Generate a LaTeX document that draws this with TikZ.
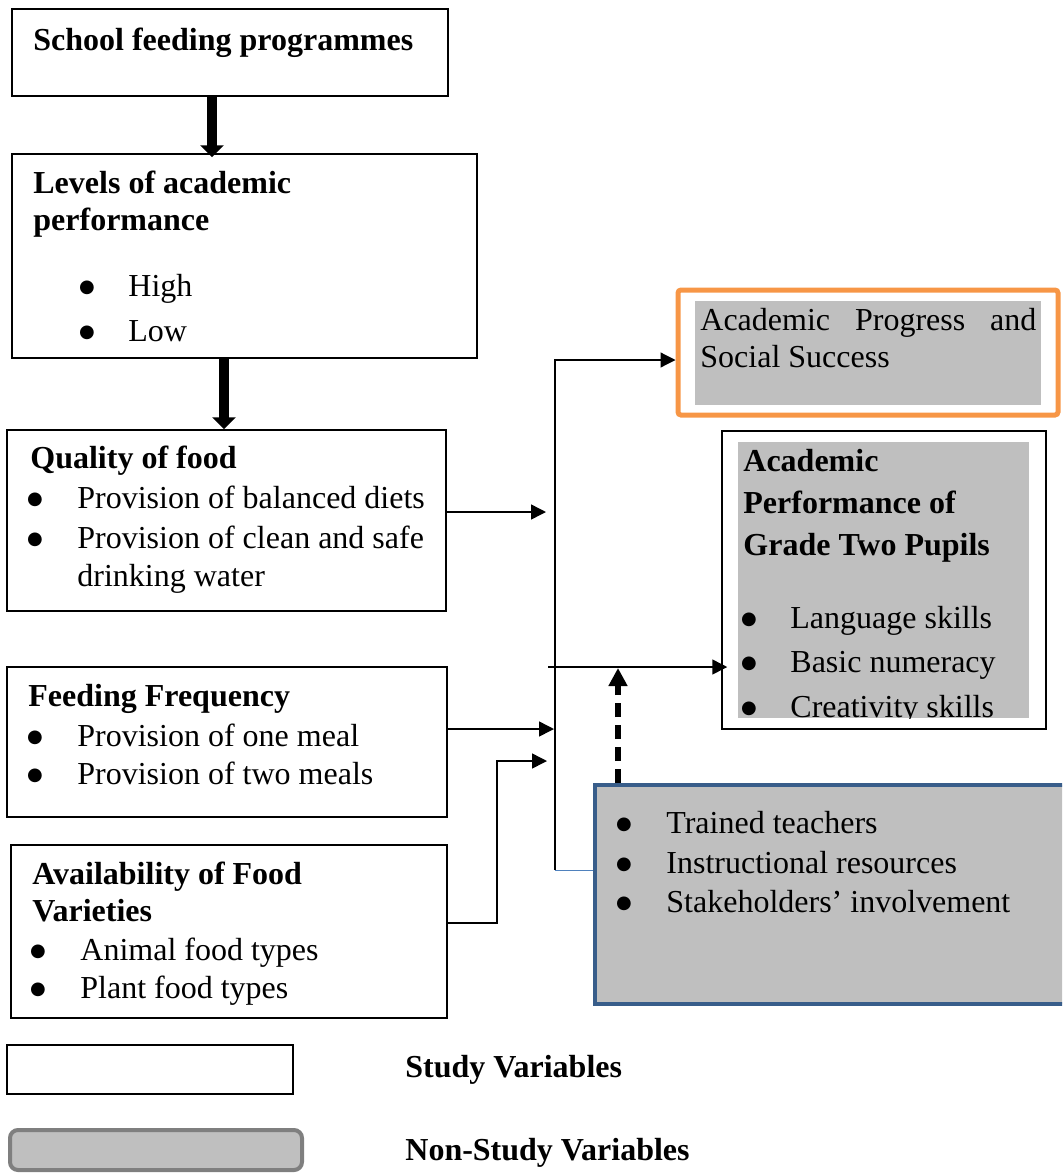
\documentclass[tikz,border=0pt]{standalone}
\usepackage{fontspec}
\setmainfont{Liberation Serif}
\newfontfamily\dejavu{DejaVu Sans}
\usetikzlibrary{arrows.meta,fit}
\definecolor{orangeB}{HTML}{F79646}
\definecolor{blueB}{HTML}{385D8A}
\definecolor{lineblue}{HTML}{4F81BD}
\definecolor{grayF}{HTML}{BFBFBF}
\definecolor{grayB}{HTML}{7F7F7F}
\newcommand{\bigbul}{\raisebox{2pt}{●}}
\begin{document}
\begin{tikzpicture}[x=0.5pt,y=-0.5pt,
  sbox/.style={draw=black, line width=0.75pt, inner sep=0pt},
  txt/.style={anchor=base west, inner sep=0pt, font=\fontsize{16}{20}\selectfont},
  bld/.style={anchor=base west, inner sep=0pt, font=\fontsize{16}{20}\selectfont\bfseries},
  bul/.style={anchor=base, inner sep=0pt, font=\dejavu\fontsize{9}{11}\selectfont},
  fatarrow/.style={line width=5pt, -{Triangle[width=11.5pt,length=6pt]}},
  arr/.style={line width=0.75pt, -{Triangle[width=7.5pt,length=7.5pt]}},
  dasharr/.style={line width=3pt, dash pattern=on 7pt off 4pt, -{Triangle[width=9pt,length=9pt]}}
]
\useasboundingbox (0,0) rectangle (1062,1173);
\clip (0,0) rectangle (1062,1173);

% ---------- left boxes ----------
\node[sbox, fit={(12,9) (448,96)}] (b1) {};
\node[sbox, fit={(12,154) (477,358)}] (b2) {};
\node[sbox, fit={(7,430) (446,611)}] (b3) {};
\node[sbox, fit={(7,667) (447,817)}] (b4) {};
\node[sbox, fit={(11,845) (447,1018)}] (b5) {};

% ---------- right boxes ----------
\node[draw=orangeB, line width=2.5pt, rounded corners=1.5pt, inner sep=0pt, fit={(678,290) (1058,415)}] (ob) {};
\node[fill=grayF, inner sep=0pt, fit={(695,301) (1041,405)}] (og) {};
\node[sbox, fit={(722,431) (1046,729)}] (rb) {};
\node[fill=grayF, inner sep=0pt, fit={(738,442) (1029,718)}] (rg) {};
\node[draw=blueB, fill=grayF, line width=2pt, inner sep=0pt, fit={(595,785) (1075,1004)}] (bb) {};

% ---------- legend ----------
\node[sbox, fit={(7,1045) (293,1094)}] (l1) {};
\node[draw=grayB, fill=grayF, line width=2pt, rounded corners=4pt, inner sep=0pt, fit={(10,1130) (302,1170)}] (l2) {};
\node[bld] (lt1) at (405,1077) {Study Variables};
\node[bld] (lt2) at (405,1160) {Non-Study Variables};

% ---------- texts ----------
\node[bld] (t1) at (33,50) {School feeding programmes};

\node[bld] (t2a) at (33,193) {Levels of academic};
\node[bld] (t2b) at (33,230) {performance};
\node[bul] (u2a) at (87,296) {\bigbul};
\node[txt] (t2c) at (128,296) {High};
\node[bul] (u2b) at (87,341) {\bigbul};
\node[txt] (t2d) at (128,341) {Low};

\node[bld] (t3a) at (30,468) {Quality of food};
\node[bul] (u3a) at (35,508) {\bigbul};
\node[txt] (t3b) at (77,508) {Provision of balanced diets};
\node[bul] (u3b) at (35,548) {\bigbul};
\node[txt] (t3c) at (77,548) {Provision of clean and safe};
\node[txt] (t3d) at (77,586) {drinking water};

\node[bld] (t4a) at (28,706) {Feeding Frequency};
\node[bul] (u4a) at (35,746) {\bigbul};
\node[txt] (t4b) at (77,746) {Provision of one meal};
\node[bul] (u4b) at (35,784) {\bigbul};
\node[txt] (t4c) at (77,784) {Provision of two meals};

\node[bld] (t5a) at (32,884) {Availability of Food};
\node[bld] (t5b) at (32,921) {Varieties};
\node[bul] (u5a) at (38,960) {\bigbul};
\node[txt] (t5c) at (80,960) {Animal food types};
\node[bul] (u5b) at (38,998) {\bigbul};
\node[txt] (t5d) at (80,998) {Plant food types};

\node[txt] (to1) at (700,330) {\makebox[168pt][s]{Academic Progress and}};
\node[txt] (to2) at (700,367) {Social Success};

\begin{scope}
\clip (738,442) rectangle (1029,718);
\node[bld] (tr1) at (743,471) {Academic};
\node[bld] (tr2) at (743,513) {Performance of};
\node[bld] (tr3) at (743,555) {Grade Two Pupils};
\node[bul] (ur1) at (749,628) {\bigbul};
\node[txt] (tr4) at (790,628) {Language skills};
\node[bul] (ur2) at (749,672) {\bigbul};
\node[txt] (tr5) at (790,672) {Basic numeracy};
\node[bul] (ur3) at (749,717) {\bigbul};
\node[txt] (tr6) at (790,717) {Creativity skills};
\end{scope}

\node[bul] (ub1) at (624,833) {\bigbul};
\node[txt] (tb1) at (666,833) {Trained teachers};
\node[bul] (ub2) at (624,873) {\bigbul};
\node[txt] (tb2) at (666,873) {Instructional resources};
\node[bul] (ub3) at (624,912) {\bigbul};
\node[txt] (tb3) at (666,912) {Stakeholders’ involvement};

% ---------- helper coordinates ----------
\coordinate (x212) at (212,0);
\coordinate (x224) at (224,0);
\coordinate (vtop) at (555,360);
\coordinate (vbot) at (555,870);
\coordinate (j3) at (546,512);
\coordinate (j4) at (554,729);
\coordinate (h5) at (497,923);
\coordinate (j5) at (547,761);
\coordinate (hs) at (548,667);
\coordinate (dt) at (618,668);

% ---------- connectors ----------
\draw[fatarrow, shorten >=-2pt] (b1.south -| x212) -- (b2.north -| x212);
\draw[fatarrow] (b2.south -| x224) -- (b3.north -| x224);

\draw[line width=0.6pt, -{Triangle[width=7.5pt,length=7.5pt]}] (vbot) -- (vtop) -- (ob.west |- vtop);
\draw[lineblue, line width=0.5pt] (vbot) -- (bb.west |- vbot);

\draw[arr] (b3.east |- j3) -- (j3);
\draw[arr] (b4.east |- j4) -- (j4);
\draw[arr] (b5.east |- h5) -- (h5) |- (j5);
\draw[arr, shorten >=-3pt] (hs) -- (rb.west |- hs);
\draw[dasharr] (bb.north -| dt) -- (dt);
\end{tikzpicture}
\end{document}
